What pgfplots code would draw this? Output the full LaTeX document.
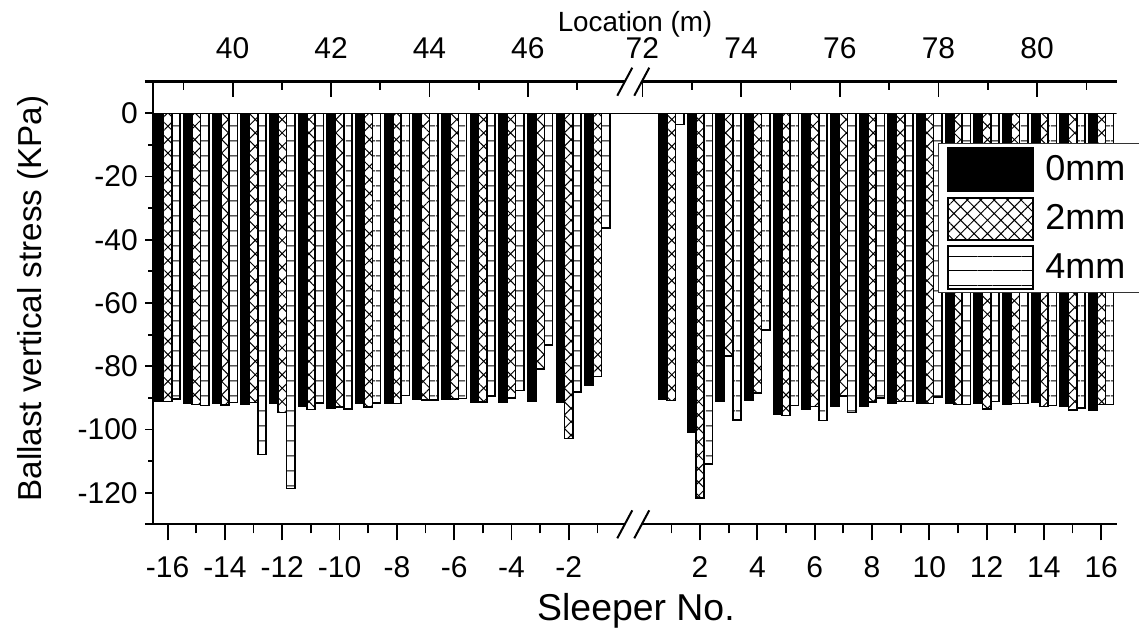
\documentclass[border=0pt]{standalone}
\usepackage{pgfplots}
\pgfplotsset{compat=1.18}
\usepackage{pgfplotstable}
\usepackage{fontspec}
\setmainfont{Liberation Sans}
\usetikzlibrary{patterns.meta}

\pgfplotstableread{
s a b c
-16 -91.1 -91.1 -90.3
-15 -91.8 -92.1 -92.4
-14 -91.8 -92.2 -91.5
-13 -91.9 -91.5 -107.9
-12 -91.6 -94.7 -118.7
-11 -92.6 -93.7 -91.6
-10 -93.2 -92.9 -93.5
-9 -91.6 -92.9 -91.7
-8 -91.6 -91.8 -89.3
-7 -90.5 -90.6 -90.6
-6 -90.5 -90.3 -90.2
-5 -91.4 -91.4 -89.5
-4 -91.4 -90.0 -87.7
-3 -91.1 -80.8 -73.2
-2 -91.3 -102.8 -88.1
-1 -86.0 -83.2 -36.3
1 -90.5 -90.8 -3.5
2 -101.0 -121.6 -111.0
3 -91.1 -76.8 -97.1
4 -90.7 -88.4 -68.6
5 -95.3 -95.6 -92.4
6 -93.7 -92.8 -97.2
7 -92.8 -89.5 -94.7
8 -92.8 -91.4 -90.0
9 -91.8 -91.1 -91.1
10 -91.6 -91.8 -89.7
11 -91.6 -92.1 -92.1
12 -91.8 -93.5 -91.1
13 -92.1 -91.8 -91.8
14 -91.4 -92.8 -92.4
15 -92.6 -93.9 -93.2
16 -93.9 -92.1 -92.1
}\data

\newcommand{\tickfont}{\fontsize{15}{18}\selectfont}

\begin{document}
\begin{tikzpicture}
\useasboundingbox (-76.65pt,-52.85pt) rectangle (492.85pt,262.15pt);
\begin{axis}[
  scale only axis, width=481.7pt, height=221.3pt,
  xmin=-16.5, xmax=17.12, ymin=-130, ymax=10,
  axis x line*=bottom, axis y line*=left,
  x axis line style={-, line width=1.2pt},
  y axis line style={-, line width=1.2pt},
  tick align=outside,
  xtick={-16,-14,-12,-10,-8,-6,-4,-2,2.58,4.58,6.58,8.58,10.58,12.58,14.58,16.58},
  xticklabels={-16,-14,-12,-10,-8,-6,-4,-2,2,4,6,8,10,12,14,16},
  minor xtick={-15,-13,-11,-9,-7,-5,-3,-1,1.58,3.58,5.58,7.58,9.58,11.58,13.58,15.58},
  ytick={-120,-100,-80,-60,-40,-20,0},
  yticklabels={-120,-100,-80,-60,-40,-20,0},
  minor ytick={-110,-90,-70,-50,-30,-10},
  x tick style={/pgfplots/major tick length=8pt, /pgfplots/minor tick length=4.5pt, line width=0.9pt, black},
  y tick style={/pgfplots/major tick length=4pt, /pgfplots/minor tick length=2.5pt, line width=0.9pt, black},
  tick label style={font=\tickfont},
  xticklabel style={yshift=-8.5pt},
  xlabel={Sleeper No.},
  ylabel={Ballast vertical stress (KPa)},
  xlabel style={at={(axis description cs:0.501,-0.196)}, anchor=center, font=\fontsize{18.7}{22}\selectfont},
  ylabel style={at={(axis description cs:-0.1249,0.51)}, anchor=center, font=\fontsize{16.6}{20}\selectfont},
  legend style={at={(0.8148,0.8608)}, anchor=north west, draw=black!80, line width=0.5pt,
    inner xsep=4.2pt, inner ysep=1.7pt, row sep=2.35pt, column sep=5.6pt,
    font=\fontsize{18}{20}\selectfont,
    nodes={inner sep=0pt}},
  legend cell align=left,
]
\addplot[ybar, bar width=4.15pt, bar shift=-4.15pt, fill=black, draw=black, line width=0.8pt,
  legend image code/.code={\draw[fill=black, draw=black, line width=1pt] (0pt,-10.65pt) rectangle (42.5pt,10.65pt);}]
  table[x expr={ifthenelse(\thisrow{s}<0,\thisrow{s},\thisrow{s}+0.58)}, y=a]{\data};
\addplot[ybar, bar width=4.15pt, bar shift=0pt, draw=black, line width=0.8pt,
  pattern={Hatch[angle=45,distance=4.75pt,line width=0.5pt]},
  legend image code/.code={\draw[draw=black, line width=1pt, pattern={Hatch[angle=45,distance=4.75pt,line width=0.5pt]}] (0pt,-10.65pt) rectangle (42.5pt,10.65pt);}]
  table[x expr={ifthenelse(\thisrow{s}<0,\thisrow{s},\thisrow{s}+0.58)}, y=b]{\data};
\addplot[ybar, bar width=4.15pt, bar shift=4.15pt, draw=black, line width=0.8pt,
  pattern={Lines[angle=0,distance=7.25pt,line width=0.5pt]},
  legend image code/.code={\draw[draw=black, line width=1pt, pattern={Lines[angle=0,distance=7.35pt,line width=0.5pt,yshift=3.1pt]}] (0pt,-10.65pt) rectangle (42.5pt,10.65pt);}]
  table[x expr={ifthenelse(\thisrow{s}<0,\thisrow{s},\thisrow{s}+0.58)}, y=c]{\data};
\legend{0mm\hspace*{14pt},2mm,4mm}
\draw[line width=0.75pt] (axis cs:-16.5,0) -- (axis cs:17.12,0);
\end{axis}
\begin{axis}[
  scale only axis, width=481.7pt, height=221.3pt,
  xmin=-16.5, xmax=17.12, ymin=-130, ymax=10,
  axis x line*=top, axis y line=none, clip=false,
  x axis line style={-, line width=1.2pt},
  tick align=inside,
  xtick={-13.73,-10.296,-6.862,-3.428,0.568,4.012,7.456,10.9,14.344},
  xticklabels={40,42,44,46,72,74,76,78,80},
  minor xtick={-15.447,-12.013,-8.579,-5.145,-1.711,2.29,5.734,9.178,12.622,16.066},
  ytick=\empty,
  x tick style={/pgfplots/major tick length=7.5pt, /pgfplots/minor tick length=4pt, line width=0.9pt, black},
  xticklabel style={font=\tickfont, yshift=8pt},
  xlabel={Location (m)},
  xlabel style={at={(axis description cs:0.5,1.129)}, anchor=center, font=\fontsize{13.9}{16}\selectfont},
]
\fill[white] ([yshift=-2pt]axis cs:-0.047,-130) rectangle ([yshift=2pt]axis cs:0.546,-130);
\fill[white] ([yshift=-2pt]axis cs:-0.047,10) rectangle ([yshift=2pt]axis cs:0.546,10);
\draw[line width=1pt] ([xshift=-3.75pt,yshift=-7pt]axis cs:-0.047,-130) -- ([xshift=3.75pt,yshift=7pt]axis cs:-0.047,-130);
\draw[line width=1pt] ([xshift=-3.75pt,yshift=-7pt]axis cs:0.546,-130) -- ([xshift=3.75pt,yshift=7pt]axis cs:0.546,-130);
\draw[line width=1pt] ([xshift=-3.75pt,yshift=-7pt]axis cs:-0.047,10) -- ([xshift=3.75pt,yshift=7pt]axis cs:-0.047,10);
\draw[line width=1pt] ([xshift=-3.75pt,yshift=-7pt]axis cs:0.546,10) -- ([xshift=3.75pt,yshift=7pt]axis cs:0.546,10);
\draw[line width=1.2pt] ([xshift=-4.2pt]axis cs:-16.5,-130) -- (axis cs:-16.5,-130);
\draw[line width=1.2pt] ([xshift=-4.2pt]axis cs:-16.5,10) -- (axis cs:-16.5,10);
\end{axis}
\end{tikzpicture}
\end{document}
